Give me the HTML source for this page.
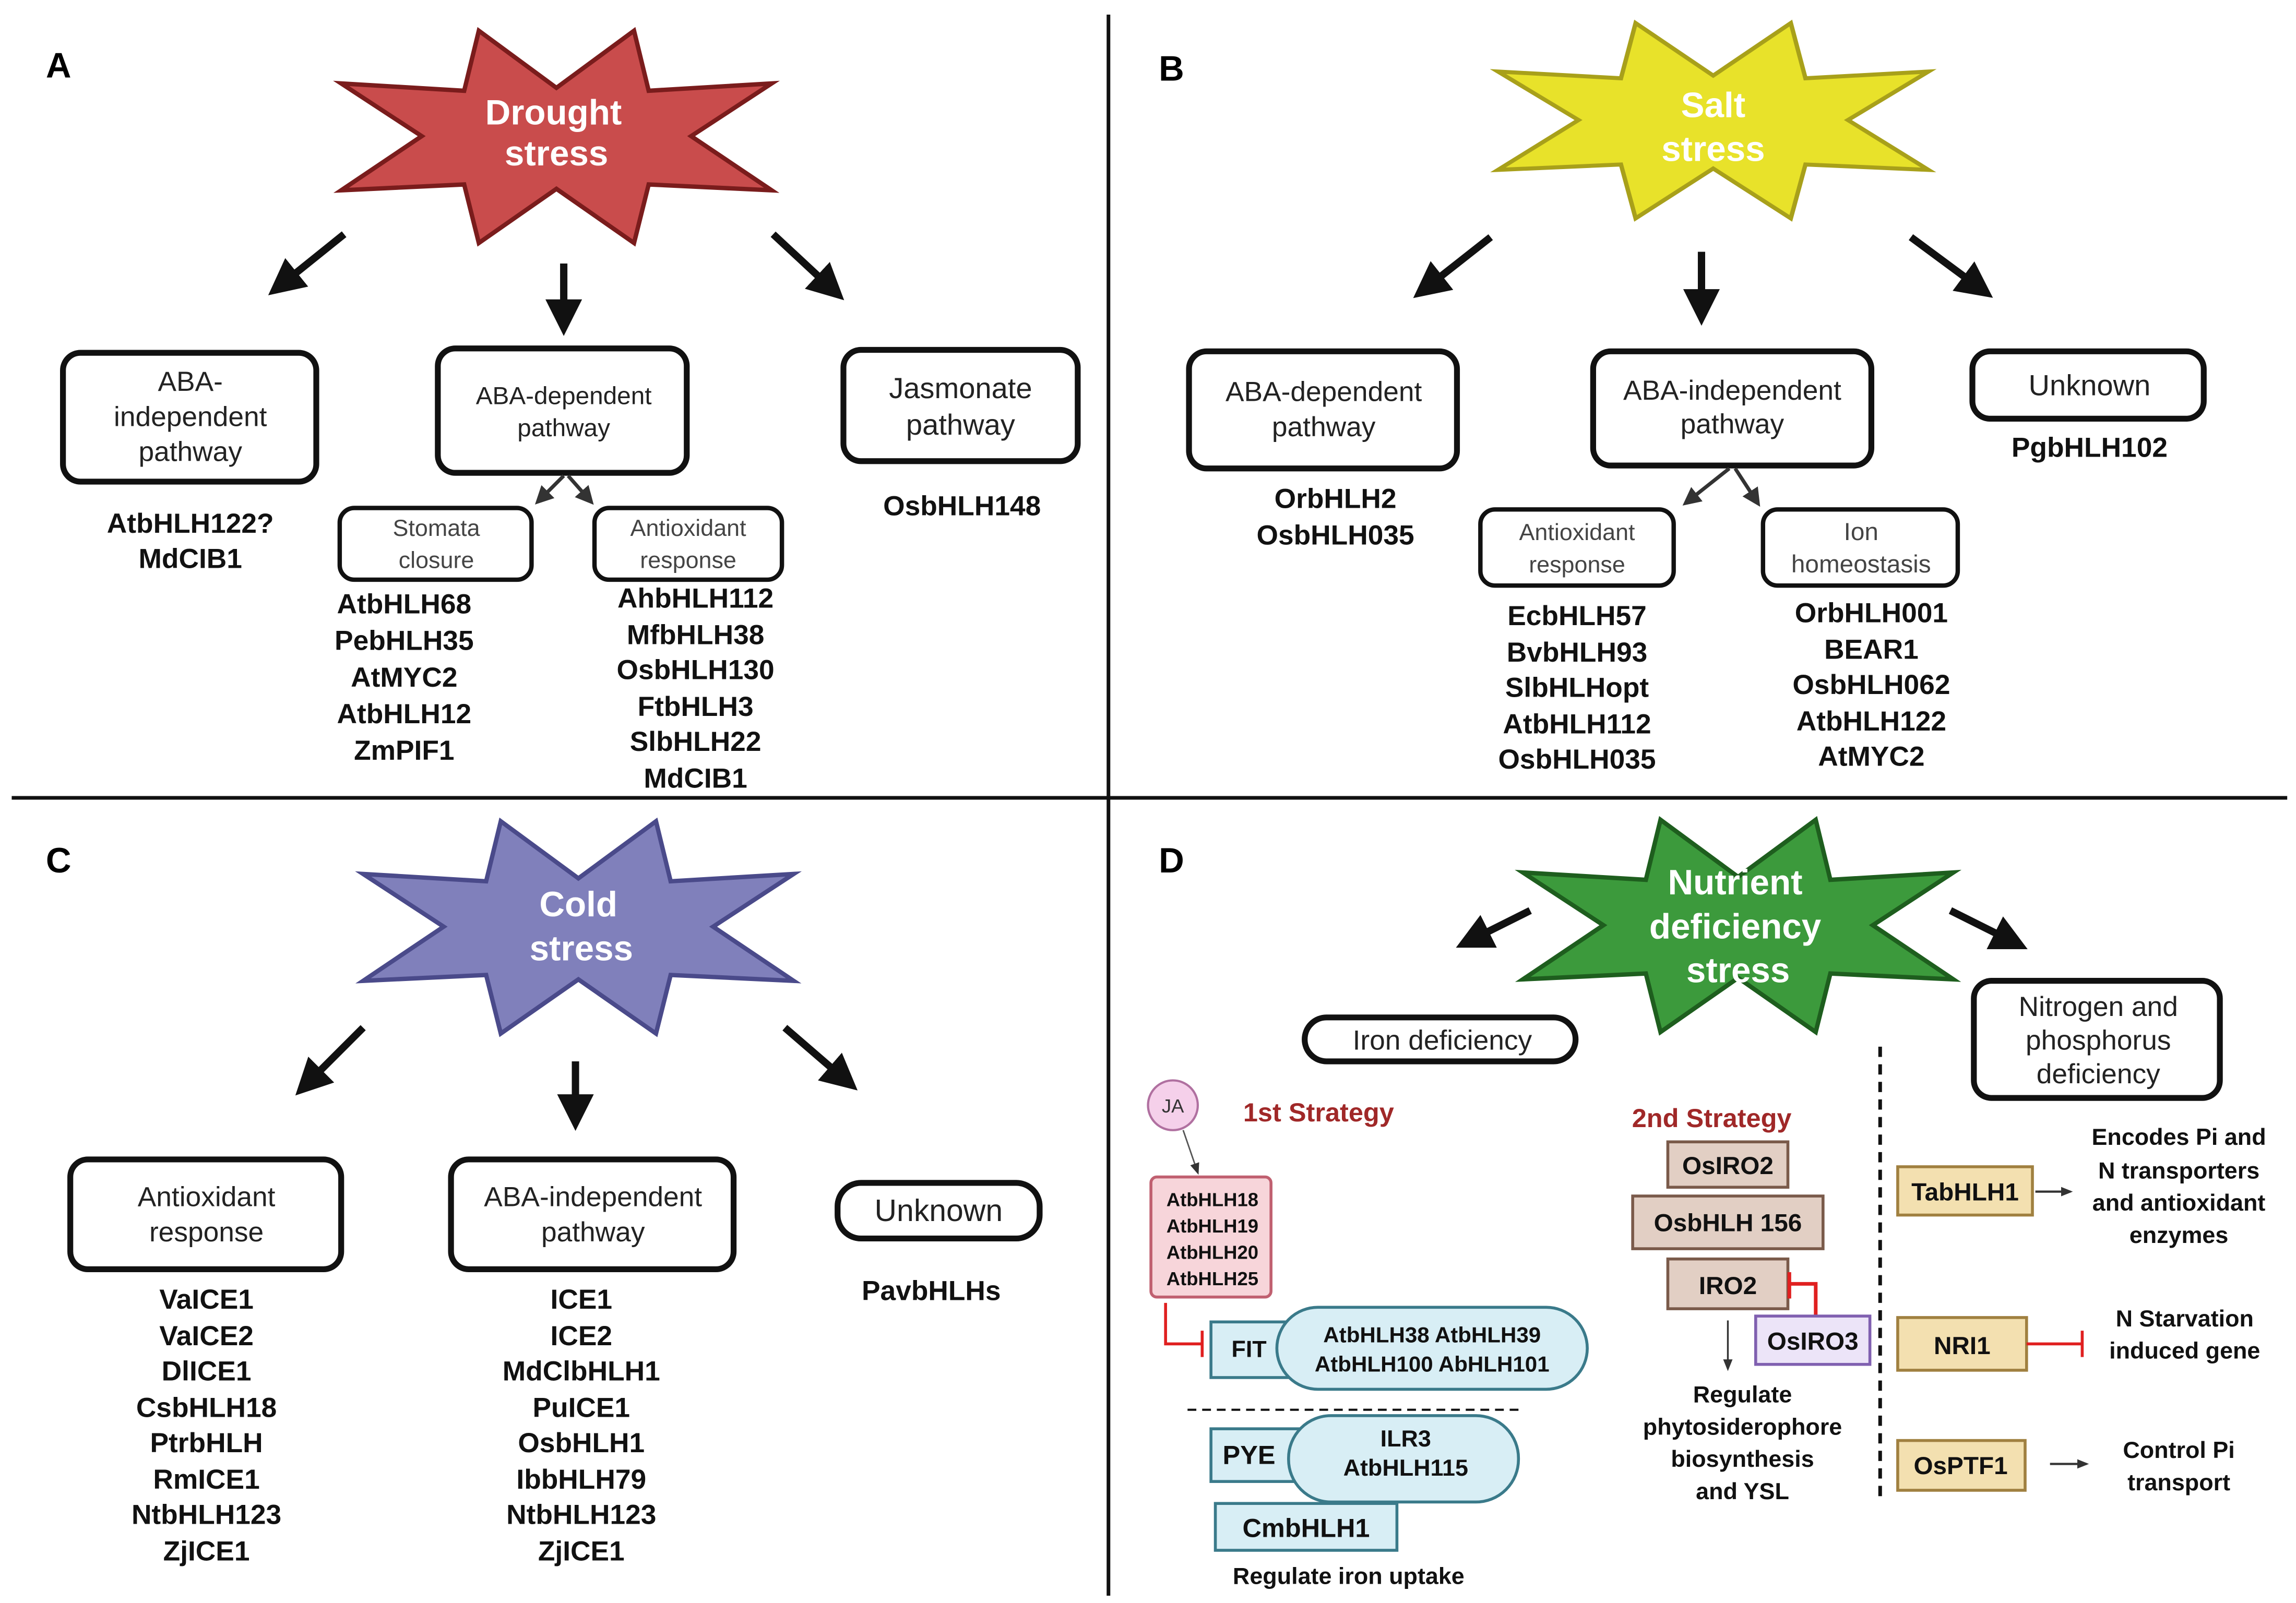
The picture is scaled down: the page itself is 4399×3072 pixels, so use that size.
<!DOCTYPE html>
<html><head><meta charset="utf-8"><style>
html,body{margin:0;padding:0;background:#fff}
svg{display:block}
text{font-family:"Liberation Sans",sans-serif}
.b{font-weight:bold;font-size:19px;fill:#111;text-anchor:middle}
.n{font-size:19px;fill:#222;text-anchor:middle}
.s{font-size:16px;fill:#444;text-anchor:middle}
.w{font-weight:bold;font-size:24px;fill:#fff;text-anchor:middle}
.bx{fill:#fff;stroke:#111;stroke-width:4}
.sb{fill:#fff;stroke:#111;stroke-width:3}
.ar{stroke:#111;stroke-width:5;marker-end:url(#ah);fill:none}
.ar2{stroke:#333;stroke-width:2.5;marker-end:url(#ah2);fill:none}
.g{font-weight:bold;font-size:16px;fill:#111;text-anchor:middle}
.red{stroke:#e02020;stroke-width:2;fill:none}
</style></head><body>
<svg width="4399" height="3072" viewBox="0 0 1568 1095" preserveAspectRatio="none" xmlns="http://www.w3.org/2000/svg">
<defs>
<marker id="ah" markerWidth="5" markerHeight="5" refX="7" refY="5" viewBox="0 0 10 10" orient="auto" markerUnits="strokeWidth"><path d="M0,0 L10,5 L0,10 z" fill="#111"/></marker>
<marker id="ah2" markerWidth="5" markerHeight="5" refX="7" refY="5" viewBox="0 0 10 10" orient="auto" markerUnits="strokeWidth"><path d="M0,0 L10,5 L0,10 z" fill="#333"/></marker>
<marker id="ah3" markerWidth="8" markerHeight="8" refX="8" refY="5" viewBox="0 0 10 10" orient="auto" markerUnits="userSpaceOnUse"><path d="M0,1 L10,5 L0,9 z" fill="#333"/></marker>
<polygon id="star" points="-53,-72 0,-33 53,-72 63,-31 147,-36 92,0 147,37 63,33 53,73 0,36 -53,73 -63,33 -147,37 -92,0 -147,-36 -63,-31"/>
</defs>
<rect width="1568" height="1095" fill="#fff"/>
<line x1="757" y1="10" x2="757" y2="1090" stroke="#111" stroke-width="2.5"/>
<line x1="8" y1="545" x2="1562" y2="545" stroke="#111" stroke-width="2.5"/>

<!-- Panel A -->
<text x="40" y="53" style="font-weight:bold;font-size:24px;text-anchor:middle">A</text>
<use href="#star" transform="translate(380,93)" fill="#c94c4c" stroke="#7a1c1c" stroke-width="3"/>
<text class="w" x="378" y="85">Drought</text><text class="w" x="380" y="113">stress</text>
<line class="ar" x1="235" y1="160" x2="189" y2="197"/>
<line class="ar" x1="385" y1="180" x2="385" y2="222"/>
<line class="ar" x1="528" y1="160" x2="571" y2="200"/>
<rect class="bx" x="43" y="241" width="173" height="88" rx="12"/>
<text class="n" x="130" y="267">ABA-</text><text class="n" x="130" y="291">independent</text><text class="n" x="130" y="315">pathway</text>
<rect class="bx" x="299" y="238" width="170" height="85" rx="12"/>
<text class="n" x="385" y="276" style="font-size:17px">ABA-dependent</text><text class="n" x="385" y="298" style="font-size:17px">pathway</text>
<rect class="bx" x="576" y="239" width="160" height="76" rx="12"/>
<text class="n" x="656" y="272" style="font-size:20px">Jasmonate</text><text class="n" x="656" y="297" style="font-size:20px">pathway</text>
<text class="b" x="130" y="364">AtbHLH122?</text><text class="b" x="130" y="388">MdCIB1</text>
<text class="b" x="657" y="352">OsbHLH148</text>
<line class="ar2" x1="385" y1="325" x2="368" y2="342"/>
<line class="ar2" x1="388" y1="325" x2="403" y2="342"/>
<rect class="sb" x="232" y="347" width="131" height="49" rx="10"/>
<text class="s" x="298" y="366">Stomata</text><text class="s" x="298" y="388">closure</text>
<rect class="sb" x="406" y="347" width="128" height="49" rx="10"/>
<text class="s" x="470" y="366">Antioxidant</text><text class="s" x="470" y="388">response</text>
<text class="b" x="276" y="419">AtbHLH68</text><text class="b" x="276" y="444">PebHLH35</text><text class="b" x="276" y="469">AtMYC2</text><text class="b" x="276" y="494">AtbHLH12</text><text class="b" x="276" y="519">ZmPIF1</text>
<text class="b" x="475" y="415">AhbHLH112</text><text class="b" x="475" y="440">MfbHLH38</text><text class="b" x="475" y="464">OsbHLH130</text><text class="b" x="475" y="489">FtbHLH3</text><text class="b" x="475" y="513">SlbHLH22</text><text class="b" x="475" y="538">MdCIB1</text>

<!-- Panel B -->
<text x="800" y="55" style="font-weight:bold;font-size:24px;text-anchor:middle">B</text>
<use href="#star" transform="translate(1170,82) scale(1,0.92)" fill="#e8e22a" stroke="#a8a01a" stroke-width="3"/>
<text class="w" x="1170" y="80">Salt</text><text class="w" x="1170" y="110">stress</text>
<line class="ar" x1="1018" y1="162" x2="971" y2="199"/>
<line class="ar" x1="1162" y1="172" x2="1162" y2="215"/>
<line class="ar" x1="1305" y1="162" x2="1355" y2="199"/>
<rect class="bx" x="812" y="240" width="183" height="80" rx="12"/>
<text class="n" x="904" y="274">ABA-dependent</text><text class="n" x="904" y="298">pathway</text>
<rect class="bx" x="1088" y="240" width="190" height="78" rx="12"/>
<text class="n" x="1183" y="273">ABA-independent</text><text class="n" x="1183" y="296">pathway</text>
<rect class="bx" x="1347" y="240" width="158" height="46" rx="12"/>
<text class="n" x="1427" y="270" style="font-size:20px">Unknown</text>
<text class="b" x="1427" y="312">PgbHLH102</text>
<text class="b" x="912" y="347">OrbHLH2</text><text class="b" x="912" y="372">OsbHLH035</text>
<line class="ar2" x1="1181" y1="320" x2="1152" y2="343"/>
<line class="ar2" x1="1185" y1="320" x2="1200" y2="343"/>
<rect class="sb" x="1011" y="348" width="132" height="52" rx="10"/>
<text class="s" x="1077" y="369">Antioxidant</text><text class="s" x="1077" y="391">response</text>
<rect class="sb" x="1204" y="348" width="133" height="52" rx="10"/>
<text class="s" x="1271" y="369" style="font-size:17px">Ion</text><text class="s" x="1271" y="391" style="font-size:17px">homeostasis</text>
<text class="b" x="1077" y="427">EcbHLH57</text><text class="b" x="1077" y="452">BvbHLH93</text><text class="b" x="1077" y="476">SlbHLHopt</text><text class="b" x="1077" y="501">AtbHLH112</text><text class="b" x="1077" y="525">OsbHLH035</text>
<text class="b" x="1278" y="425">OrbHLH001</text><text class="b" x="1278" y="450">BEAR1</text><text class="b" x="1278" y="474">OsbHLH062</text><text class="b" x="1278" y="499">AtbHLH122</text><text class="b" x="1278" y="523">AtMYC2</text>

<!-- Panel C -->
<text x="40" y="596" style="font-weight:bold;font-size:24px;text-anchor:middle">C</text>
<use href="#star" transform="translate(395,633)" fill="#8080bb" stroke="#4a4a8a" stroke-width="3"/>
<text class="w" x="395" y="626">Cold</text><text class="w" x="397" y="656">stress</text>
<line class="ar" x1="248" y1="702" x2="207" y2="743"/>
<line class="ar" x1="393" y1="725" x2="393" y2="765"/>
<line class="ar" x1="536" y1="702" x2="580" y2="740"/>
<rect class="bx" x="48" y="792" width="185" height="75" rx="12"/>
<text class="n" x="141" y="824">Antioxidant</text><text class="n" x="141" y="848">response</text>
<rect class="bx" x="308" y="792" width="193" height="75" rx="12"/>
<text class="n" x="405" y="824">ABA-independent</text><text class="n" x="405" y="848">pathway</text>
<rect class="bx" x="572" y="808" width="138" height="38" rx="16"/>
<text class="n" x="641" y="834" style="font-size:21px">Unknown</text>
<text class="b" x="636" y="888">PavbHLHs</text>
<text class="b" x="141" y="894">VaICE1</text><text class="b" x="141" y="919">VaICE2</text><text class="b" x="141" y="943">DlICE1</text><text class="b" x="141" y="968">CsbHLH18</text><text class="b" x="141" y="992">PtrbHLH</text><text class="b" x="141" y="1017">RmICE1</text><text class="b" x="141" y="1041">NtbHLH123</text><text class="b" x="141" y="1066">ZjICE1</text>
<text class="b" x="397" y="894">ICE1</text><text class="b" x="397" y="919">ICE2</text><text class="b" x="397" y="943">MdClbHLH1</text><text class="b" x="397" y="968">PuICE1</text><text class="b" x="397" y="992">OsbHLH1</text><text class="b" x="397" y="1017">IbbHLH79</text><text class="b" x="397" y="1041">NtbHLH123</text><text class="b" x="397" y="1066">ZjICE1</text>

<!-- Panel D -->
<text x="800" y="596" style="font-weight:bold;font-size:24px;text-anchor:middle">D</text>
<use href="#star" transform="translate(1187,632)" fill="#3c9a3c" stroke="#1e5e1e" stroke-width="3"/>
<text class="w" x="1185" y="611">Nutrient</text><text class="w" x="1185" y="641">deficiency</text><text class="w" x="1187" y="671">stress</text>
<line class="ar" x1="1045" y1="622" x2="1001" y2="644"/>
<line class="ar" x1="1332" y1="622" x2="1378" y2="645"/>
<rect class="bx" x="891" y="695" width="185" height="30" rx="15"/>
<text class="n" x="985" y="717">Iron deficiency</text>
<rect class="bx" x="1348" y="670" width="168" height="80" rx="12"/>
<text class="n" x="1433" y="694">Nitrogen and</text><text class="n" x="1433" y="717">phosphorus</text><text class="n" x="1433" y="740">deficiency</text>
<line x1="1284" y1="715" x2="1284" y2="1025" stroke="#111" stroke-width="2.5" stroke-dasharray="7,5"/>
<circle cx="801" cy="755" r="17" fill="#f5d0ea" stroke="#b070a0" stroke-width="1.5"/>
<text x="801" y="760" style="font-size:13px;fill:#333;text-anchor:middle">JA</text>
<text x="849" y="766" style="font-weight:bold;font-size:18px;fill:#a02828">1st Strategy</text>
<line x1="808" y1="772" x2="818" y2="801" stroke="#555" stroke-width="1" marker-end="url(#ah3)"/>
<rect x="786" y="804" width="82" height="82" rx="4" fill="#f7d5da" stroke="#c06070" stroke-width="2"/>
<text class="g" x="828" y="824" style="font-size:13px">AtbHLH18</text><text class="g" x="828" y="842" style="font-size:13px">AtbHLH19</text><text class="g" x="828" y="860" style="font-size:13px">AtbHLH20</text><text class="g" x="828" y="878" style="font-size:13px">AtbHLH25</text>
<path class="red" d="M796,890 V918 H821"/><line x1="821" y1="909" x2="821" y2="927" stroke="#e02020" stroke-width="2"/>
<rect x="827" y="903" width="55" height="38" fill="#d8eef5" stroke="#3a7a8a" stroke-width="2"/>
<text class="g" x="853" y="927">FIT</text>
<rect x="872" y="893" width="212" height="56" rx="28" fill="#d8eef5" stroke="#3a7a8a" stroke-width="2"/>
<text class="g" x="978" y="917" style="font-size:15px">AtbHLH38 AtbHLH39</text><text class="g" x="978" y="937" style="font-size:15px">AtbHLH100 AbHLH101</text>
<line x1="811" y1="963" x2="1037" y2="963" stroke="#111" stroke-width="1.5" stroke-dasharray="6,4"/>
<rect x="827" y="976" width="60" height="36" fill="#d8eef5" stroke="#3a7a8a" stroke-width="2"/>
<text class="g" x="853" y="1000" style="font-size:18px">PYE</text>
<rect x="880" y="967" width="157" height="59" rx="29" fill="#d8eef5" stroke="#3a7a8a" stroke-width="2"/>
<text class="g" x="960" y="988">ILR3</text><text class="g" x="960" y="1008">AtbHLH115</text>
<rect x="830" y="1027" width="124" height="32" fill="#d8eef5" stroke="#3a7a8a" stroke-width="2"/>
<text class="g" x="892" y="1050" style="font-size:18px">CmbHLH1</text>
<text class="g" x="921" y="1082">Regulate iron uptake</text>
<text x="1169" y="770" style="font-weight:bold;font-size:18px;fill:#a02828;text-anchor:middle">2nd Strategy</text>
<rect x="1139" y="780" width="82" height="31" fill="#e2cfc4" stroke="#7a5a4a" stroke-width="2"/>
<text class="g" x="1180" y="802" style="font-size:17px">OsIRO2</text>
<rect x="1115" y="817" width="130" height="36" fill="#e2cfc4" stroke="#7a5a4a" stroke-width="2"/>
<text class="g" x="1180" y="841" style="font-size:17px">OsbHLH 156</text>
<rect x="1139" y="860" width="82" height="34" fill="#e2cfc4" stroke="#7a5a4a" stroke-width="2"/>
<text class="g" x="1180" y="884" style="font-size:17px">IRO2</text>
<path d="M1240,899 V877 H1222" stroke="#e02020" stroke-width="2.5" fill="none"/><line x1="1222" y1="869" x2="1222" y2="887" stroke="#e02020" stroke-width="2.5"/>
<rect x="1199" y="899" width="78" height="33" fill="#ece4f8" stroke="#8060b0" stroke-width="2"/>
<text class="g" x="1238" y="922" style="font-size:17px">OsIRO3</text>
<line x1="1180" y1="902" x2="1180" y2="935" stroke="#333" stroke-width="1.2" marker-end="url(#ah3)"/>
<text class="g" x="1190" y="958">Regulate</text><text class="g" x="1190" y="980">phytosiderophore</text><text class="g" x="1190" y="1002">biosynthesis</text><text class="g" x="1190" y="1024">and  YSL</text>
<rect x="1296" y="797" width="92" height="33" fill="#f3e0b0" stroke="#a08040" stroke-width="2"/>
<text class="g" x="1342" y="820" style="font-size:17px">TabHLH1</text>
<line x1="1390" y1="814" x2="1414" y2="814" stroke="#333" stroke-width="1.5" marker-end="url(#ah3)"/>
<text class="g" x="1488" y="782">Encodes Pi and</text><text class="g" x="1488" y="805">N transporters</text><text class="g" x="1488" y="827">and antioxidant</text><text class="g" x="1488" y="849">enzymes</text>
<rect x="1296" y="900" width="88" height="36" fill="#f3e0b0" stroke="#a08040" stroke-width="2"/>
<text class="g" x="1340" y="925" style="font-size:17px">NRI1</text>
<line x1="1384" y1="918" x2="1422" y2="918" stroke="#e02020" stroke-width="2"/><line x1="1422" y1="909" x2="1422" y2="927" stroke="#e02020" stroke-width="2"/>
<text class="g" x="1492" y="906">N Starvation</text><text class="g" x="1492" y="928">induced gene</text>
<rect x="1296" y="984" width="87" height="34" fill="#f3e0b0" stroke="#a08040" stroke-width="2"/>
<text class="g" x="1339" y="1007" style="font-size:17px">OsPTF1</text>
<line x1="1400" y1="1000" x2="1425" y2="1000" stroke="#333" stroke-width="1.5" marker-end="url(#ah3)"/>
<text class="g" x="1488" y="996">Control Pi</text><text class="g" x="1488" y="1018">transport</text>
</svg>
</body></html>
